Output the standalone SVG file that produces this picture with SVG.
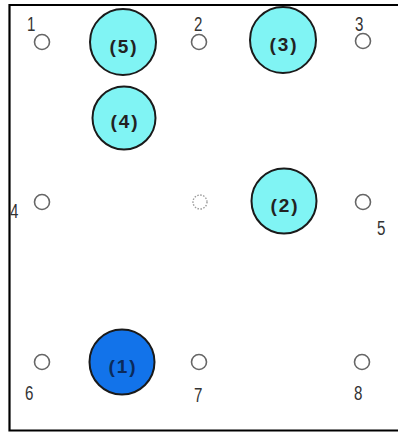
<svg xmlns="http://www.w3.org/2000/svg" width="398" height="432" viewBox="0 0 398 432">
<style>
.pt{fill:#fff;stroke:#666;stroke-width:1.6}
.dash{fill:#fff;stroke:#999;stroke-width:1.4;stroke-dasharray:1.5 1.5}
.big{fill:#80f4f4;stroke:#1a1a1a;stroke-width:2}
.dark{fill:#1273ea;stroke:#1a1a1a;stroke-width:2}
.num{font-family:"Liberation Sans",Arial,sans-serif;font-size:21px;fill:#333}
.lab{font-family:"Liberation Sans",Arial,sans-serif;font-size:19px;font-weight:bold;fill:#222;text-anchor:middle;letter-spacing:2px}
.frame{stroke:#000;stroke-width:2.2;fill:none}
</style>
<rect width="398" height="432" fill="#fff"/>
<g id="frame"><path class="frame" d="M398 5 H9.5 V430.5 H398"/></g>
<g id="connectors"></g>
<g id="p1"><circle class="pt" cx="42" cy="42" r="7.5"/><text class="num" transform="translate(27,31) scale(0.72,1)">1</text></g>
<g id="p2"><circle class="pt" cx="199" cy="42" r="7.5"/><text class="num" transform="translate(194,31) scale(0.72,1)">2</text></g>
<g id="p3"><circle class="pt" cx="363" cy="41" r="7.5"/><text class="num" transform="translate(355,31) scale(0.72,1)">3</text></g>
<g id="p4"><circle class="pt" cx="42" cy="202" r="7.5"/><text class="num" transform="translate(10,218) scale(0.72,1)">4</text></g>
<g id="pc"><circle class="dash" cx="200" cy="202" r="7"/></g>
<g id="p5"><circle class="pt" cx="363" cy="202" r="7.5"/><text class="num" transform="translate(377,235) scale(0.72,1)">5</text></g>
<g id="p6"><circle class="pt" cx="42" cy="362" r="7.5"/><text class="num" transform="translate(25,400) scale(0.72,1)">6</text></g>
<g id="p7"><circle class="pt" cx="199" cy="362" r="7.5"/><text class="num" transform="translate(194,402) scale(0.72,1)">7</text></g>
<g id="p8"><circle class="pt" cx="362" cy="362" r="7.5"/><text class="num" transform="translate(354,400) scale(0.72,1)">8</text></g>
<g id="n5"><circle class="big" cx="123" cy="42" r="33"/><text class="lab" x="124" y="53">(5)</text></g>
<g id="n4"><circle class="big" cx="124" cy="118" r="31.5"/><text class="lab" x="125" y="128">(4)</text></g>
<g id="n3"><circle class="big" cx="283" cy="40" r="33"/><text class="lab" x="284" y="51">(3)</text></g>
<g id="n2"><circle class="big" cx="284" cy="201" r="32.5"/><text class="lab" x="285" y="212">(2)</text></g>
<g id="n1"><circle class="dark" cx="122" cy="362" r="32.5"/><text class="lab" x="123" y="373" style="fill:#0b2a5a">(1)</text></g>
</svg>
